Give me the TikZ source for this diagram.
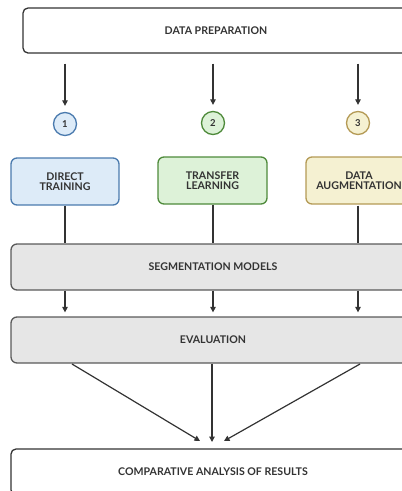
\documentclass[tikz,border=0pt]{standalone}
\usepackage{fontspec}
\setmainfont{Lato}
\usetikzlibrary{arrows.meta}
\definecolor{ink}{HTML}{333333}
\definecolor{blueF}{HTML}{DDEBF8}
\definecolor{blueD}{HTML}{4A7AAE}
\definecolor{greenF}{HTML}{DDF2D8}
\definecolor{greenD}{HTML}{4E8A3A}
\definecolor{yellowF}{HTML}{F5F1D2}
\definecolor{yellowD}{HTML}{B49A55}
\definecolor{grayF}{HTML}{E6E6E6}
\definecolor{grayD}{HTML}{5A5A5A}
\tikzset{
  lbl/.style={font=\fontsize{10.6}{10.4}\selectfont\bfseries, text=ink, align=center},
  stagebox/.style={lbl, draw=ink, line width=1.3pt, rounded corners=5pt, fill=white},
  methodbox/.style={lbl, line width=1.3pt, rounded corners=6pt, minimum height=47pt},
  graybox/.style={lbl, draw=grayD, fill=grayF, line width=1.3pt, rounded corners=6pt, minimum width=404pt, minimum height=46pt},
  badge/.style={circle, line width=1.3pt, minimum size=23pt, inner sep=0pt, font=\fontsize{9.5}{9.5}\selectfont\bfseries, text=ink},
  flow/.style={draw=ink, line width=1.2pt, -{Triangle[length=5.5pt,width=5.5pt]}},
  link/.style={draw=ink, line width=1.3pt}
}
\begin{document}
\begin{tikzpicture}[x=1pt,y=-1pt]
\useasboundingbox (0,0) rectangle (402,491);
\clip (0,0) rectangle (402,491);

% pipeline stages
\node[stagebox, minimum width=386pt, minimum height=45pt] (dp) at (216,30.5) {DATA PREPARATION};

\node[badge, draw=blueD, fill=blueF] (c1) at (65,124) {1};
\node[badge, draw=greenD, fill=greenF] (c2) at (213,123) {2};
\node[badge, draw=yellowD, fill=yellowF] (c3) at (358,123) {3};

\node[methodbox, draw=blueD, fill=blueF, minimum width=108pt] (dt) at (65,181.5) {DIRECT\\TRAINING};
\node[methodbox, draw=greenD, fill=greenF, minimum width=109pt] (tl) at (212.5,180.5) {TRANSFER\\LEARNING};
\node[methodbox, draw=yellowD, fill=yellowF, minimum width=106pt] (da) at (359,180.5) {DATA\\AUGMENTATION};

\node[graybox] (seg) at (213,267) {SEGMENTATION MODELS};
\node[graybox] (ev) at (213,340) {EVALUATION};
\node[stagebox, minimum width=404pt, minimum height=46pt] (cmp) at (213,472) {COMPARATIVE ANALYSIS OF RESULTS};

% data preparation feeds the three approaches
\draw[flow, shorten <=10pt, shorten >=6pt] (dp.south -| c1) -- (c1.north);
\draw[flow, shorten <=10pt, shorten >=6pt] (dp.south -| c2) -- (c2.north);
\draw[flow, shorten <=10pt, shorten >=6pt] (dp.south -| c3) -- (c3.north);

% approaches into the models
\draw[link] (dt.south) -- (seg.north -| dt.south);
\draw[link] (tl.south -| c2) -- (seg.north -| c2);
\draw[link] (dt.south -| c3) -- (seg.north -| c3);

% models to evaluation
\draw[flow, shorten >=4pt] (seg.south -| c1) -- (ev.north -| c1);
\draw[flow, shorten >=4pt] (seg.south -| c2) -- (ev.north -| c2);
\draw[flow, shorten >=4pt] (seg.south -| c3) -- (ev.north -| c3);

% evaluation converges on the comparison
\coordinate (e1) at (72,364);
\coordinate (e3) at (360,364);
\coordinate (t1) at (200,441);
\coordinate (t2) at (212,442);
\coordinate (t3) at (224,441);
\draw[flow] (e1) -- (t1);
\draw[flow] (ev.south -| t2) -- (t2);
\draw[flow] (e3) -- (t3);
\end{tikzpicture}
\end{document}
